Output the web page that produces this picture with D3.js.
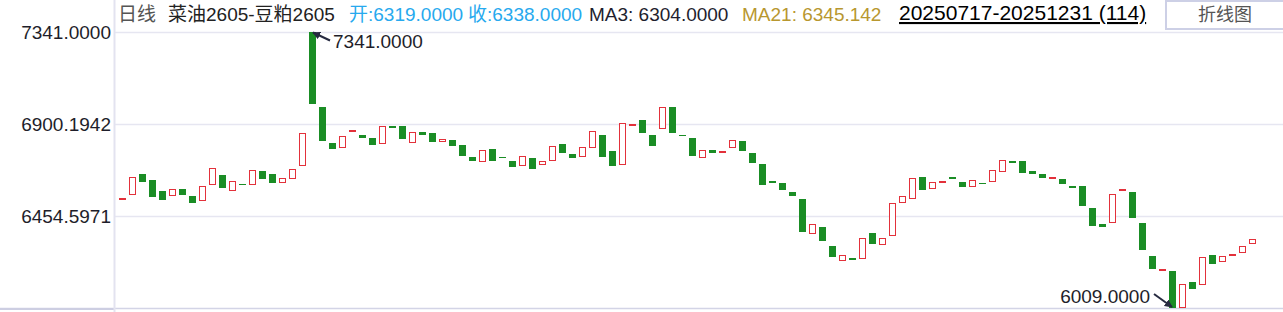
<!DOCTYPE html>
<html>
<head>
<meta charset="utf-8">
<script src="https://cdn.jsdelivr.net/npm/d3@7/dist/d3.min.js"></script>
<style>
  body { margin: 0; background: #fff; }
  svg { display: block; font-family: "Liberation Sans", Arial, "Noto Sans CJK SC", sans-serif; }
</style>
</head>
<body>
<svg id="chart" width="1283" height="312"></svg>
<script>
// open / close of each daily bar (114 bars, 20250717-20251231)
var opens = [6539, 6559, 6657, 6628, 6575, 6554, 6584, 6551, 6530, 6607,
  6652, 6578, 6608, 6607, 6671, 6657, 6617, 6636, 6699, 7341,
  6981, 6807, 6786, 6864, 6845, 6829, 6805, 6889, 6889, 6810,
  6860, 6855, 6815, 6821, 6797, 6739, 6718, 6778, 6739, 6720,
  6699, 6734, 6704, 6723, 6802, 6754, 6742, 6786, 6845, 6768,
  6704, 6896, 6918, 6845, 6878, 6982, 6846, 6831, 6738, 6773,
  6760, 6786, 6816, 6758, 6705, 6625, 6613, 6570, 6536, 6370,
  6401, 6309, 6240, 6251, 6249, 6372, 6317, 6361, 6520, 6539,
  6642, 6588, 6618, 6642, 6618, 6597, 6613, 6623, 6671, 6720,
  6720, 6671, 6657, 6634, 6633, 6599, 6599, 6493, 6415, 6423,
  6576, 6570, 6420, 6262, 6196, 6188, 6010, 6135, 6124, 6265,
  6235, 6268, 6276, 6319]
var closes = [6540, 6641, 6620, 6547, 6533, 6584, 6557, 6518, 6594, 6684,
  6591, 6623, 6607, 6675, 6634, 6615, 6633, 6680, 6855, 6995,
  6818, 6779, 6839, 6865, 6832, 6799, 6888, 6881, 6828, 6859,
  6847, 6813, 6825, 6794, 6745, 6721, 6771, 6721, 6738, 6692,
  6742, 6682, 6715, 6791, 6760, 6736, 6786, 6863, 6741, 6697,
  6902, 6897, 6857, 6794, 6979, 6857, 6845, 6745, 6771, 6760,
  6768, 6820, 6770, 6712, 6605, 6615, 6581, 6552, 6378, 6414,
  6334, 6257, 6265, 6243, 6346, 6320, 6346, 6515, 6546, 6636,
  6581, 6617, 6619, 6634, 6596, 6626, 6612, 6675, 6720, 6709,
  6663, 6658, 6639, 6641, 6610, 6591, 6504, 6407, 6402, 6559,
  6584, 6446, 6291, 6199, 6197, 6009, 6125, 6102, 6254, 6223,
  6259, 6269, 6307, 6338]

// y axis: ticks step 445.5971 up from the low
var yMin = 6009
var yTicks = [6454.5971, 6900.1942, 7345.7913]
var yTickLabels = ["6454.5971", "6900.1942", "7341.0000"]

var highValue = 7341, highLabel = "7341.0000"
var lowValue = 6009, lowLabel = "6009.0000"

var svg = d3.select("#chart")
var W = 1283

var x = d3.scaleBand()
  .domain(d3.range(opens.length))
  .range([117, 1257])

var y = d3.scaleLinear()
  .domain([yMin, yTicks[yTicks.length - 1]])
  .range([308, 31.5])

var cx = function(i) { return Math.round(x(i) + x.bandwidth() / 2) }

// grid lines
svg.append("g").selectAll("line")
  .data(yTicks)
  .join("line")
  .attr("x1", 115).attr("x2", W)
  .attr("y1", function(d) { return Math.round(y(d)) + 0.5 })
  .attr("y2", function(d) { return Math.round(y(d)) + 0.5 })
  .style("stroke", "#e6e6f1")
  .style("stroke-width", 1.5)

// bottom border + y axis line
svg.append("line")
  .attr("x1", 0).attr("x2", W).attr("y1", 308.5).attr("y2", 308.5)
  .style("stroke", "#d3d4e6").style("stroke-width", 1.5)
svg.append("line")
  .attr("x1", 0).attr("x2", 115).attr("y1", 309).attr("y2", 309)
  .style("stroke", "#cdcee2").style("stroke-width", 2)
svg.append("line")
  .attr("x1", 114.5).attr("x2", 114.5).attr("y1", 0).attr("y2", 312)
  .style("stroke", "#e3e3f0").style("stroke-width", 2)

// y labels
svg.append("g").selectAll("text")
  .data(yTicks)
  .join("text")
  .attr("x", 111)
  .attr("y", function(d) { return y(d) + 1 })
  .attr("text-anchor", "end")
  .attr("dominant-baseline", "central")
  .style("font-size", "19px")
  .style("fill", "#1e1e2a")
  .text(function(d, i) { return yTickLabels[i] })

// candles (bodies only)
var candles = svg.append("g").attr("shape-rendering", "crispEdges")
candles.selectAll("rect")
  .data(d3.range(opens.length))
  .join("rect")
  .attr("x", function(i) { return closes[i] >= opens[i] ? cx(i) - 2.5 : cx(i) - 3 })
  .attr("width", function(i) { return closes[i] >= opens[i] ? 6 : 7 })
  .attr("y", function(i) { return y(Math.max(opens[i], closes[i])) })
  .attr("height", function(i) { return Math.max(1, Math.abs(y(opens[i]) - y(closes[i]))) })
  .style("fill", function(i) { return closes[i] >= opens[i] ? "#fff" : "#1a8d25" })
  .style("stroke", function(i) { return closes[i] >= opens[i] ? "#e3313b" : "none" })
  .style("stroke-width", 1)

// high / low markers
var defs = svg.append("defs")
defs.append("marker")
  .attr("id", "arr")
  .attr("viewBox", "0 0 10 10")
  .attr("refX", 9).attr("refY", 5)
  .attr("markerWidth", 4).attr("markerHeight", 4)
  .attr("orient", "auto")
  .append("path")
  .attr("d", "M0,0L10,5L0,10Z")
  .style("fill", "#262a40")

var hi = opens.indexOf(highValue)
svg.append("line")
  .attr("x1", cx(hi) + 18).attr("y1", y(highValue) + 8)
  .attr("x2", cx(hi) + 1).attr("y2", y(highValue))
  .style("stroke", "#262a40").style("stroke-width", 2)
  .attr("marker-end", "url(#arr)")
svg.append("text")
  .attr("x", cx(hi) + 21).attr("y", y(highValue) + 9)
  .attr("dominant-baseline", "central")
  .style("font-size", "19px").style("fill", "#1e1e2a")
  .text(highLabel)

var lo = closes.indexOf(lowValue)
svg.append("line")
  .attr("x1", cx(lo) - 18).attr("y1", y(lowValue) - 14)
  .attr("x2", cx(lo)).attr("y2", y(lowValue) - 1)
  .style("stroke", "#262a40").style("stroke-width", 2)
  .attr("marker-end", "url(#arr)")
svg.append("text")
  .attr("x", cx(lo) - 22).attr("y", y(lowValue) - 12)
  .attr("text-anchor", "end")
  .attr("dominant-baseline", "central")
  .style("font-size", "19px").style("fill", "#1e1e2a")
  .text(lowLabel)

// header line
var header = [
  { x: 118, text: "日线", color: "#555" },
  { x: 168, text: "菜油2605-豆粕2605", color: "#222" },
  { x: 349, text: "开:6319.0000", color: "#27a9ee" },
  { x: 468, text: "收:6338.0000", color: "#27a9ee" },
  { x: 589, text: "MA3: 6304.0000", color: "#1e1e2e" },
  { x: 742, text: "MA21: 6345.142", color: "#b8972f" }
]
svg.append("g").selectAll("text")
  .data(header)
  .join("text")
  .attr("x", function(d) { return d.x })
  .attr("y", 21)
  .style("font-size", "19px")
  .style("fill", function(d) { return d.color })
  .text(function(d) { return d.text })

svg.append("text")
  .attr("x", 899).attr("y", 20)
  .style("font-size", "21px")
  .style("fill", "#000")
  .style("text-decoration", "underline")
  .text("20250717-20251231 (114)")

// 折线图 button
svg.append("rect")
  .attr("x", 1166).attr("y", 1).attr("width", 118).attr("height", 28)
  .style("fill", "#fff").style("stroke", "#cdd0e6").style("stroke-width", 2)
svg.append("text")
  .attr("x", 1225).attr("y", 15)
  .attr("text-anchor", "middle").attr("dominant-baseline", "central")
  .style("font-size", "18px").style("fill", "#555")
  .text("折线图")
</script>
</body>
</html>
